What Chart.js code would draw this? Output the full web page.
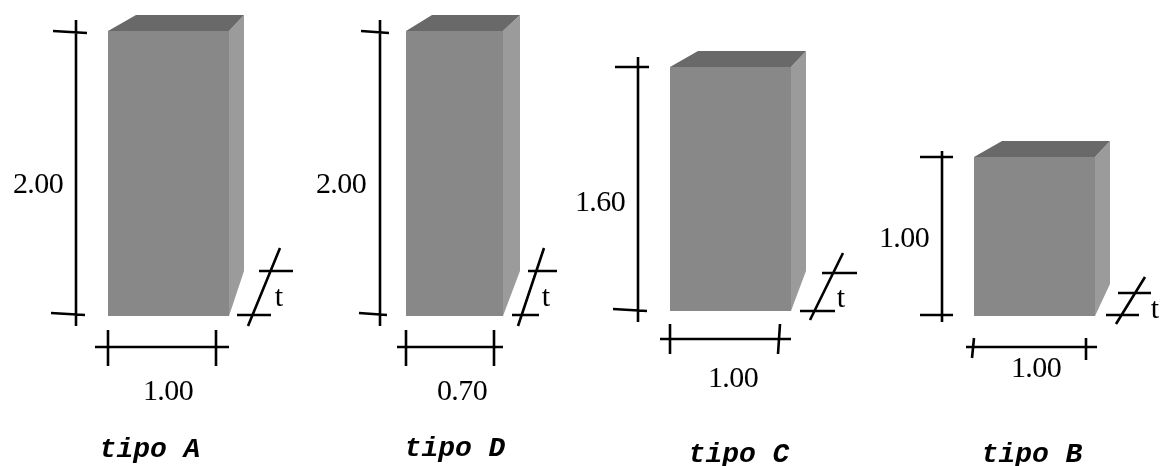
<!DOCTYPE html>
<html>
<head>
<meta charset="utf-8">
<title>tipos de bloco</title>
<script src="https://cdn.jsdelivr.net/npm/chart.js@4"></script>
<style>
  html, body { margin: 0; padding: 0; background: #fff; }
  canvas { display: block; }
</style>
</head>
<body>
<canvas id="grafico" width="1161" height="466"></canvas>
<script>
// blocos na ordem da figura: A, D, C, B
// faces: [x, y] de cada vertice
const faceFrente = [
    [[108, 31], [229, 31], [229, 316], [108, 316]],
    [[406, 31], [503, 31], [503, 316], [406, 316]],
    [[670, 67], [791, 67], [791, 311], [670, 311]],
    [[974, 157], [1095, 157], [1095, 316], [974, 316]]
];
const faceTopo = [
    [[108, 31], [136, 15], [244, 15], [229, 31]],
    [[406, 31], [432, 15], [520, 15], [503, 31]],
    [[670, 67], [698, 51], [806, 51], [791, 67]],
    [[974, 157], [1002, 141], [1110, 141], [1095, 157]]
];
const faceLado = [
    [[229, 31], [244, 15], [244, 271], [229, 316]],
    [[503, 31], [520, 15], [520, 271], [503, 316]],
    [[791, 67], [806, 51], [806, 271], [791, 311]],
    [[1095, 157], [1110, 141], [1110, 284], [1095, 316]]
];

// cotas: cada item e um traco [x1, y1, x2, y2]
const cotaAltura = [
    [[76, 20, 76, 326], [53, 31, 87, 33], [51, 313, 85, 315]],
    [[380, 20, 380, 326], [361, 31, 389, 33], [359, 313, 387, 315]],
    [[638, 57, 638, 322], [615, 67, 649, 67], [613, 309, 647, 311]],
    [[942, 151, 942, 322], [920, 157, 953, 157], [920, 315, 953, 315]]
];
const cotaLargura = [
    [[95, 347, 229, 347], [108, 330, 108, 366], [216, 330, 216, 366]],
    [[397, 347, 503, 347], [406, 330, 406, 366], [494, 330, 494, 366]],
    [[660, 339, 791, 339], [670, 324, 670, 354], [780, 324, 778, 354]],
    [[966, 347, 1097, 347], [974, 338, 972, 358], [1086, 338, 1086, 360]]
];
const cotaEspessura = [
    [[248, 326, 280, 248], [259, 271, 293, 271], [237, 315, 271, 315]],
    [[518, 326, 544, 248], [528, 271, 557, 271], [512, 315, 539, 315]],
    [[810, 320, 843, 253], [822, 273, 857, 273], [800, 311, 835, 311]],
    [[1116, 324, 1145, 277], [1118, 293, 1151, 293], [1106, 315, 1139, 315]]
];

const rotulosAltura = ['2.00', '2.00', '1.60', '1.00'];
const alturaX = [38, 341, 600, 904];
const alturaY = [185, 185, 203, 239];

const rotulosLargura = ['1.00', '0.70', '1.00', '1.00'];
const larguraX = [168, 462, 733, 1036];
const larguraY = [392, 392, 379, 369];

const rotuloEspessura = 't';
const espessuraX = [279, 546, 841, 1155];
const espessuraY = [298, 298, 299, 310];

const tipos = ['tipo A', 'tipo D', 'tipo C', 'tipo B'];
const tipoX = [150, 455, 739, 1032];
const tipoY = [450, 449, 455, 455];

const COR_FRENTE = '#888888';
const COR_TOPO = '#696969';
const COR_LADO = '#9b9b9b';

function poligono(vertices, cor) {
    const pontos = vertices.concat([vertices[0]]).map(function (v) {
        return { x: v[0], y: v[1] };
    });
    return {
        data: pontos,
        showLine: true,
        fill: 'shape',
        backgroundColor: cor,
        borderWidth: 0,
        pointRadius: 0
    };
}

function tracos(lista) {
    const pontos = [];
    lista.forEach(function (t) {
        pontos.push({ x: t[0], y: t[1] }, { x: t[2], y: t[3] }, { x: null, y: null });
    });
    return {
        data: pontos,
        showLine: true,
        fill: false,
        borderColor: '#000',
        borderWidth: 2.6,
        pointRadius: 0,
        spanGaps: false
    };
}

const datasets = [];
faceFrente.forEach(function (f, i) {
    datasets.push(poligono(f, COR_FRENTE));
    datasets.push(poligono(faceTopo[i], COR_TOPO));
    datasets.push(poligono(faceLado[i], COR_LADO));
    datasets.push(tracos(cotaAltura[i].concat(cotaLargura[i], cotaEspessura[i])));
});

// os textos saem pelas mesmas escalas do grafico
const textosPlugin = {
    id: 'textos',
    afterDatasetsDraw(chart) {
        const ctx = chart.ctx;
        const sx = chart.scales.x;
        const sy = chart.scales.y;
        function escreve(texto, x, y, fonte, espaco) {
            ctx.font = fonte;
            ctx.letterSpacing = espaco;
            ctx.fillText(texto, sx.getPixelForValue(x), sy.getPixelForValue(y));
        }
        ctx.save();
        ctx.fillStyle = '#000';
        ctx.textAlign = 'center';
        ctx.textBaseline = 'middle';
        const serif = '30px "Liberation Serif"';
        tipos.forEach(function (tipo, i) {
            escreve(rotulosAltura[i], alturaX[i], alturaY[i], serif, '-0.6px');
            escreve(rotulosLargura[i], larguraX[i], larguraY[i], serif, '-0.6px');
            escreve(rotuloEspessura, espessuraX[i], espessuraY[i], serif, '0px');
            escreve(tipo, tipoX[i], tipoY[i], 'italic bold 28px "Liberation Mono"', '0px');
        });
        ctx.restore();
    }
};

new Chart(document.getElementById('grafico'), {
    type: 'scatter',
    data: { datasets: datasets },
    options: {
        responsive: false,
        animation: false,
        layout: { padding: 0 },
        plugins: { legend: { display: false }, tooltip: { enabled: false } },
        scales: {
            x: { type: 'linear', display: false, min: 0, max: 1161 },
            y: { type: 'linear', display: false, min: 0, max: 466, reverse: true }
        }
    },
    plugins: [textosPlugin]
});
</script>
</body>
</html>
